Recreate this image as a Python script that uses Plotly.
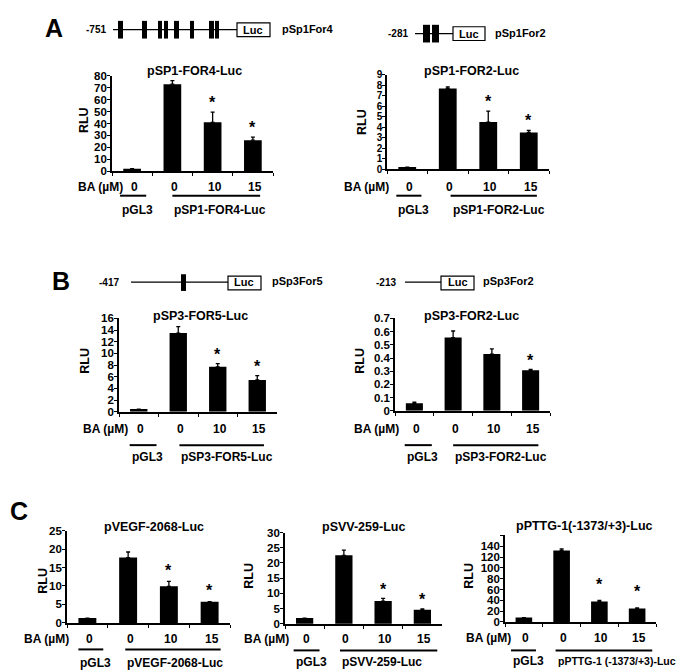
import plotly.graph_objects as go

W, H = 685, 670
FONT = "Liberation Sans, Arial, sans-serif"

# ---------------- data ----------------
CATEGORIES = ["pGL3", "BA 0", "BA 10", "BA 15"]
BA_DOSES = ["0", "0", "10", "15"]

A1_TITLE, A1_CONSTRUCT = "pSP1-FOR4-Luc", "pSP1-FOR4-Luc"
A1_RLU = [2, 73, 41, 26]
A1_ERR = [0, 3, 8.5, 2.5]
A1_SIG = [False, False, True, True]
A1_YMAX, A1_DTICK = 80, 10

A2_TITLE, A2_CONSTRUCT = "pSP1-FOR2-Luc", "pSP1-FOR2-Luc"
A2_RLU = [0.2, 7.7, 4.5, 3.5]
A2_ERR = [0, 0.15, 1.05, 0.2]
A2_SIG = [False, False, True, True]
A2_YMAX, A2_DTICK = 9, 1

B1_TITLE, B1_CONSTRUCT = "pSP3-FOR5-Luc", "pSP3-FOR5-Luc"
B1_RLU = [0.45, 13.5, 7.7, 5.45]
B1_ERR = [0, 1.1, 0.55, 0.75]
B1_SIG = [False, False, True, True]
B1_YMAX, B1_DTICK = 16, 2

B2_TITLE, B2_CONSTRUCT = "pSP3-FOR2-Luc", "pSP3-FOR2-Luc"
B2_RLU = [0.057, 0.555, 0.43, 0.307]
B2_ERR = [0.009, 0.05, 0.04, 0.007]
B2_SIG = [False, False, False, True]
B2_YMAX, B2_DTICK = 0.7, 0.1

C1_TITLE, C1_CONSTRUCT = "pVEGF-2068-Luc", "pVEGF-2068-Luc"
C1_RLU = [1.3, 17.7, 9.9, 5.75]
C1_ERR = [0, 1.5, 1.35, 0]
C1_SIG = [False, False, True, True]
C1_YMAX, C1_DTICK = 25, 5

C2_TITLE, C2_CONSTRUCT = "pSVV-259-Luc", "pSVV-259-Luc"
C2_RLU = [1.9, 22.5, 7.5, 4.6]
C2_ERR = [0, 1.7, 0.85, 0.3]
C2_SIG = [False, False, True, True]
C2_YMAX, C2_DTICK = 30, 5

C3_TITLE, C3_CONSTRUCT = "pPTTG-1(-1373/+3)-Luc", "pPTTG-1 (-1373/+3)-Luc"
C3_RLU = [8, 132, 38, 25]
C3_ERR = [0, 3, 2, 1]
C3_SIG = [False, False, True, True]
C3_YMAX, C3_DTICK = 160, 20
C3_LAST_LABELLED = 140

# schematic labels
SCHEMES = [
    ("-751", "pSp1For4"),
    ("-281", "pSp1For2"),
    ("-417", "pSp3For5"),
    ("-213", "pSp3For2"),
]

# ---------------- layout (pixel positions) ----------------
panels = [
    dict(key="A1", title=A1_TITLE, construct=A1_CONSTRUCT, y=A1_RLU, err=A1_ERR, sig=A1_SIG,
         ymax=A1_YMAX, dtick=A1_DTICK, box=(104, 265, 160, 63), tpos=(187, 58), rlu=(76, 108),
         ba=(117, 176), ul=(185, 200), star=14, l1=(-0.3, 0.35), l2=(1.0, 3.18)),
    dict(key="A2", title=A2_TITLE, construct=A2_CONSTRUCT, y=A2_RLU, err=A2_ERR, sig=A2_SIG,
         ymax=A2_YMAX, dtick=A2_DTICK, box=(379, 541, 158, 62), tpos=(463, 58), rlu=(354, 110),
         ba=(383, 176), ul=(185, 200), star=14, l1=(-0.27, 0.35), l2=(1.07, 3.2), ticksize=10),
    dict(key="B1", title=B1_TITLE, construct=B1_CONSTRUCT, y=B1_RLU, err=B1_ERR, sig=B1_SIG,
         ymax=B1_YMAX, dtick=B1_DTICK, box=(111, 269, 405, 310), tpos=(192, 307), rlu=(77, 353),
         ba=(122, 423), ul=(439, 451), star=13, l1=(-0.23, 0.45), l2=(1.03, 3.17)),
    dict(key="B2", title=B2_TITLE, construct=B2_CONSTRUCT, y=B2_RLU, err=B2_ERR, sig=B2_SIG,
         ymax=B2_YMAX, dtick=B2_DTICK, box=(387, 542, 404, 310), tpos=(463, 307), rlu=(352, 353),
         ba=(393, 423), ul=(439, 451), star=13, l1=(-0.25, 0.45), l2=(1.0, 3.2)),
    dict(key="C1", title=C1_TITLE, construct=C1_CONSTRUCT, y=C1_RLU, err=C1_ERR, sig=C1_SIG,
         ymax=C1_YMAX, dtick=C1_DTICK, box=(59, 222, 620, 526), tpos=(146, 522), rlu=(35, 577),
         ba=(63, 636), ul=(647, 661), star=15, l1=(-0.22, 0.39), l2=(0.93, 3.27)),
    dict(key="C2", title=C2_TITLE, construct=C2_CONSTRUCT, y=C2_RLU, err=C2_ERR, sig=C2_SIG,
         ymax=C2_YMAX, dtick=C2_DTICK, box=(277, 434, 621, 528), tpos=(355, 522), rlu=(241, 572),
         ba=(283, 636), ul=(648, 660), star=13, l1=(-0.28, 0.38), l2=(0.9, 3.38)),
    dict(key="C3", title=C3_TITLE, construct=C3_CONSTRUCT, y=C3_RLU, err=C3_ERR, sig=C3_SIG,
         ymax=C3_YMAX, dtick=C3_DTICK, box=(497, 648, 619, 531), tpos=(576, 521), rlu=(461, 572),
         ba=(505, 635), ul=(648, 659), star=20, l1=(-0.34, 0.32), l2=(0.84, 3.4),
         lastlab=C3_LAST_LABELLED, labsize=10.5),
]

# schematic geometry: label right edge, line y, line x0-x1, black boxes, box y-range, Luc box, name left
scheme_geo = [
    dict(lab_r=100, y=16, line=(105, 229),
         boxes=[(110, 115), (134, 139), (150, 154), (156, 160), (166, 171), (182, 186), (201, 206), (207, 211)],
         by=(7, 25), luc=(229, 262), ly=(9, 23), name_l=272),
    dict(lab_r=402, y=20, line=(407, 445), boxes=[(415, 422), (424, 431)],
         by=(11, 29), luc=(445, 477), ly=(13, 27), name_l=485),
    dict(lab_r=113, y=273, line=(123, 220), boxes=[(173, 178)],
         by=(265, 282), luc=(220, 253), ly=(267, 281), name_l=262),
    dict(lab_r=390, y=273, line=(397, 433), boxes=[],
         by=(266, 281), luc=(433, 466), ly=(267, 281), name_l=473),
]

letters = [("A", 46, 14), ("B", 53, 272), ("C", 11, 506)]


def px(x):
    return x / W


def py(y):
    return 1 - y / H


def bfont(size):
    return dict(family=FONT, size=size, color="black", weight="bold")


fig = go.Figure()
annotations = []
shapes = []

for i, p in enumerate(panels):
    n = "" if i == 0 else str(i + 1)
    xa, ya = "xaxis" + n, "yaxis" + n
    xr, yr = "x" + n, "y" + n
    x0, x1, yb, yt = p["box"]

    fig.add_trace(go.Bar(
        x=CATEGORIES, y=p["y"], xaxis=xr, yaxis=yr, width=0.44,
        marker=dict(color="black", line=dict(width=0)),
        error_y=dict(type="data", array=p["err"], arrayminus=[0] * 4, symmetric=False,
                     color="black", thickness=1.3, width=2),
        showlegend=False, hoverinfo="skip",
    ))

    nt = int(round(p["ymax"] / p["dtick"]))
    tickvals = [round(k * p["dtick"], 6) for k in range(nt + 1)]
    lastlab = p.get("lastlab", p["ymax"])
    ticktext = [(("%g" % v) if v <= lastlab + 1e-9 else "") for v in tickvals]

    fig.update_layout(**{
        xa: dict(domain=[px(x0), px(x1)], anchor=yr, type="category",
                 range=[-0.5, 3.5], showline=True, linecolor="black", linewidth=1.6,
                 ticks="outside", tickson="boundaries", ticklen=3, tickcolor="black",
                 showticklabels=False, showgrid=False, zeroline=False, fixedrange=True),
        ya: dict(domain=[py(yb), py(yt)], anchor=xr, range=[0, p["ymax"]],
                 tickvals=tickvals, ticktext=ticktext, showline=True, linecolor="black",
                 linewidth=1.6, ticks="outside", ticklen=3, tickcolor="black",
                 tickfont=bfont(p.get("ticksize", 11.5)), ticklabelstandoff=-2,
                 showgrid=False, zeroline=False, fixedrange=True),
    })

    # title
    annotations.append(dict(text=p["title"], x=px(p["tpos"][0]), y=py(p["tpos"][1]),
                            xref="paper", yref="paper", xanchor="center", yanchor="middle",
                            showarrow=False, font=bfont(12.5)))
    # RLU
    annotations.append(dict(text="RLU", x=px(p["rlu"][0]), y=py(p["rlu"][1]),
                            xref="paper", yref="paper", xanchor="center", yanchor="middle",
                            textangle=-90, showarrow=False, font=bfont(12.5)))
    # BA (uM) row
    annotations.append(dict(text="BA (\u00b5M)", x=px(p["ba"][0]), y=py(p["ba"][1]),
                            xref="paper", yref="paper", xanchor="right", yanchor="middle",
                            showarrow=False, font=bfont(12)))
    for k, d in enumerate(BA_DOSES):
        annotations.append(dict(text=d, x=k + 0.05, y=py(p["ba"][1]), xref=xr, yref="paper",
                                xanchor="center", yanchor="middle", showarrow=False, font=bfont(12)))
    # underlines and group labels
    uy, ly = p["ul"]
    for (a, b), lab, sz in ((p["l1"], "pGL3", 12), (p["l2"], p["construct"], p.get("labsize", 12))):
        shapes.append(dict(type="line", xref=xr, yref="paper", x0=a, x1=b, y0=py(uy), y1=py(uy),
                           line=dict(color="black", width=2)))
        annotations.append(dict(text=lab, x=a, y=py(ly), xref=xr, yref="paper",
                                xanchor="left", yanchor="middle", showarrow=False, font=bfont(sz)))
    # significance stars
    for k, s in enumerate(p["sig"]):
        if s:
            annotations.append(dict(text="*", x=k, y=p["y"][k] + p["err"][k], xref=xr, yref=yr,
                                    xanchor="center", yanchor="middle", yshift=p["star"] - 4,
                                    showarrow=False, font=bfont(16)))

# schematics
for (lab, name), g in zip(SCHEMES, scheme_geo):
    shapes.append(dict(type="line", xref="paper", yref="paper", x0=px(g["line"][0]), x1=px(g["line"][1]),
                       y0=py(g["y"]), y1=py(g["y"]), line=dict(color="black", width=1.3)))
    for a, b in g["boxes"]:
        shapes.append(dict(type="rect", xref="paper", yref="paper", x0=px(a), x1=px(b),
                           y0=py(g["by"][1]), y1=py(g["by"][0]), fillcolor="black",
                           line=dict(color="black", width=0)))
    shapes.append(dict(type="rect", xref="paper", yref="paper", x0=px(g["luc"][0]), x1=px(g["luc"][1]),
                       y0=py(g["ly"][1]), y1=py(g["ly"][0]), fillcolor="white",
                       line=dict(color="black", width=1.2)))
    annotations.append(dict(text="Luc", x=px((g["luc"][0] + g["luc"][1]) / 2), y=py(g["y"]),
                            xref="paper", yref="paper", xanchor="center", yanchor="middle",
                            showarrow=False, font=bfont(11)))
    annotations.append(dict(text=lab, x=px(g["lab_r"]), y=py(g["y"]), xref="paper", yref="paper",
                            xanchor="right", yanchor="middle", showarrow=False, font=bfont(10)))
    annotations.append(dict(text=name, x=px(g["name_l"]), y=py(g["y"] - 1), xref="paper", yref="paper",
                            xanchor="left", yanchor="middle", showarrow=False, font=bfont(11)))

for t, x, y in letters:
    annotations.append(dict(text=t, x=px(x), y=py(y), xref="paper", yref="paper",
                            xanchor="center", yanchor="middle", showarrow=False, font=bfont(25)))

fig.update_layout(width=W, height=H, margin=dict(l=0, r=0, t=0, b=0),
                  paper_bgcolor="white", plot_bgcolor="white",
                  annotations=annotations, shapes=shapes, bargap=0.5,
                  font=dict(family=FONT, color="black"))

fig.write_html("out.html")
